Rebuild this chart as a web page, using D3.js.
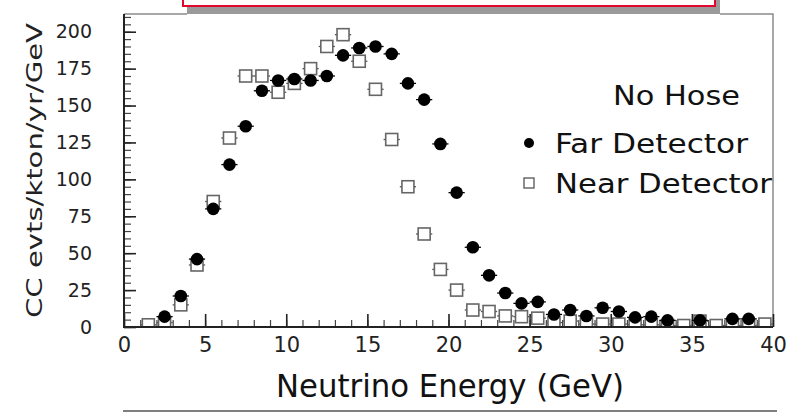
<!DOCTYPE html>
<html>
<head>
<meta charset="utf-8">
<script src="https://cdn.jsdelivr.net/npm/d3@7"></script>
<style>
  html, body { margin: 0; padding: 0; background: #fff; }
  svg { display: block; font-family: "DejaVu Sans", sans-serif; }
</style>
</head>
<body>
<svg id="chart" width="798" height="416"></svg>
<script>
// Far detector spectrum: bin centres (GeV) and CC events / kton / yr / GeV
const farEnergy = [2.5, 3.5, 4.5, 5.5, 6.5, 7.5, 8.5, 9.5, 10.5, 11.5, 12.5, 13.5, 14.5, 15.5, 16.5,
  17.5, 18.5, 19.5, 20.5, 21.5, 22.5, 23.5, 24.5, 25.5, 26.5, 27.5, 28.5, 29.5, 30.5, 31.5, 32.5,
  33.5, 35.5, 37.5, 38.5];
const farCounts = [7, 21, 46, 80, 110, 136, 160, 167, 168, 167, 170, 184, 189, 190, 185,
  165, 154, 124, 91, 54, 35, 23, 16, 17, 8.5, 11.5, 7.5, 13, 10.5, 6.5, 7,
  4.5, 4.5, 5.5, 5.5];

// Near detector spectrum
const nearEnergy = [1.5, 2.5, 3.5, 4.5, 5.5, 6.5, 7.5, 8.5, 9.5, 10.5, 11.5, 12.5, 13.5, 14.5, 15.5,
  16.5, 17.5, 18.5, 19.5, 20.5, 21.5, 22.5, 23.5, 24.5, 25.5, 26.5, 27.5, 28.5, 29.5, 30.5, 31.5,
  32.5, 33.5, 34.5, 35.5, 36.5, 37.5, 38.5, 39.5];
const nearCounts = [1.5, 3, 15, 42, 85, 128, 170, 170, 159, 165, 175, 190, 198, 180, 161,
  127, 95, 63, 39, 25, 11.5, 10.5, 7.5, 7, 6, 3, 4, 2, 2, 2, 1.5,
  1.5, 1, 1, 4, 1, 1, 1, 2];

const binHalfWidth = 0.5;
const xMajorTicks = [0, 5, 10, 15, 20, 25, 30, 35, 40];
const yMajorTicks = [0, 25, 50, 75, 100, 125, 150, 175, 200];

const xTitle = "Neutrino Energy (GeV)";
const yTitle = "CC evts/kton/yr/GeV";
const legendTitle = "No Hose";
const seriesNames = ["Far Detector", "Near Detector"];

const svg = d3.select("#chart");

const frame = { left: 124, right: 773, top: 14, bottom: 327 };
const x = d3.scaleLinear().domain([0, 40]).range([frame.left, frame.right]);
const y = d3.scaleLinear().domain([0, 212]).range([frame.bottom, frame.top]);

// banner box with drop shadow above the frame
svg.append("rect").attr("x", 187).attr("y", -10).attr("width", 533).attr("height", 24)
  .attr("fill", "#9a9a9a");
svg.append("rect").attr("x", 183).attr("y", -10).attr("width", 532).attr("height", 16)
  .attr("fill", "#fff").attr("stroke", "#e3062d").attr("stroke-width", 2);

// frame: grey top / right edges
svg.append("path")
  .attr("d", `M${frame.left},${frame.top}H187M720,${frame.top}H${frame.right}V${frame.bottom}`)
  .attr("fill", "none").attr("stroke", "#8a8a8a").attr("stroke-width", 1.5);

// minor ticks
svg.append("g").attr("transform", `translate(${frame.left},0)`)
  .call(d3.axisLeft(y).tickValues(d3.range(0, 211, 5)).tickSize(-7).tickFormat(""))
  .call(g => g.select(".domain").remove())
  .call(g => g.selectAll("line").attr("stroke", "#444").attr("stroke-width", 1.2));
svg.append("g").attr("transform", `translate(0,${frame.bottom})`)
  .call(d3.axisBottom(x).tickValues(d3.range(0, 41, 1)).tickSize(-7).tickFormat(""))
  .call(g => g.select(".domain").remove())
  .call(g => g.selectAll("line").attr("stroke", "#444").attr("stroke-width", 1.2));

// major ticks with labels
svg.append("g").attr("transform", `translate(${frame.left},0)`)
  .call(d3.axisLeft(y).tickValues(yMajorTicks).tickSize(-12).tickPadding(32).tickFormat(d3.format("d")))
  .call(g => g.select(".domain").remove())
  .call(g => g.selectAll("line").attr("stroke", "#222").attr("stroke-width", 1.6))
  .call(g => g.selectAll("text").attr("font-size", 19).attr("fill", "#222")
    .attr("font-family", "'DejaVu Sans', sans-serif"));
svg.append("g").attr("transform", `translate(0,${frame.bottom})`)
  .call(d3.axisBottom(x).tickValues(xMajorTicks).tickSize(-13).tickPadding(10).tickFormat(d3.format("d")))
  .call(g => g.select(".domain").remove())
  .call(g => g.selectAll("line").attr("stroke", "#222").attr("stroke-width", 1.6))
  .call(g => g.selectAll("text").attr("font-size", 21).attr("fill", "#222")
    .attr("font-family", "'DejaVu Sans', sans-serif"));

// left and bottom axis lines
svg.append("path")
  .attr("d", `M${frame.left},${frame.top}V${frame.bottom}H${frame.right}`)
  .attr("fill", "none").attr("stroke", "#222").attr("stroke-width", 2);

// data area clipped to the frame
svg.append("clipPath").attr("id", "plotClip").append("rect")
  .attr("x", frame.left).attr("y", frame.top)
  .attr("width", frame.right - frame.left).attr("height", frame.bottom - frame.top - 1);
const plot = svg.append("g").attr("clip-path", "url(#plotClip)");

const nearData = nearEnergy.map((e, i) => ({ e, v: nearCounts[i] }));
const farData = farEnergy.map((e, i) => ({ e, v: farCounts[i] }));

// near detector: open squares with bin-width bars
plot.append("g").selectAll("line").data(nearData).join("line")
  .attr("x1", d => x(d.e - binHalfWidth)).attr("x2", d => x(d.e + binHalfWidth))
  .attr("y1", d => y(d.v)).attr("y2", d => y(d.v))
  .attr("stroke", "#555").attr("stroke-width", 1.3);
plot.append("g").selectAll("rect").data(nearData).join("rect")
  .attr("x", d => x(d.e) - 6).attr("y", d => y(d.v) - 6)
  .attr("width", 12).attr("height", 12)
  .attr("fill", "#fff").attr("stroke", "#666").attr("stroke-width", 1.6);

// far detector: filled circles with bin-width bars
plot.append("g").selectAll("line").data(farData).join("line")
  .attr("x1", d => x(d.e - binHalfWidth)).attr("x2", d => x(d.e + binHalfWidth))
  .attr("y1", d => y(d.v)).attr("y2", d => y(d.v))
  .attr("stroke", "#000").attr("stroke-width", 1.3);
plot.append("g").selectAll("circle").data(farData).join("circle")
  .attr("cx", d => x(d.e)).attr("cy", d => y(d.v)).attr("r", 6.3)
  .attr("fill", "#000");

// legend
const legend = svg.append("g").attr("fill", "#111").attr("font-size", 26);
legend.append("text").attr("x", 613).attr("y", 105)
  .attr("textLength", 127).attr("lengthAdjust", "spacingAndGlyphs").text(legendTitle);
legend.append("circle").attr("cx", 529).attr("cy", 143).attr("r", 5).attr("fill", "#000");
legend.append("text").attr("x", 555).attr("y", 153)
  .attr("textLength", 193).attr("lengthAdjust", "spacingAndGlyphs").text(seriesNames[0]);
legend.append("rect").attr("x", 524).attr("y", 178).attr("width", 10).attr("height", 10)
  .attr("fill", "#fff").attr("stroke", "#555").attr("stroke-width", 1.3);
legend.append("text").attr("x", 555).attr("y", 193)
  .attr("textLength", 217).attr("lengthAdjust", "spacingAndGlyphs").text(seriesNames[1]);

// axis titles
svg.append("text")
  .attr("transform", "translate(42,170.5) rotate(-90)")
  .attr("text-anchor", "middle").attr("font-size", 22).attr("fill", "#222")
  .attr("textLength", 295).attr("lengthAdjust", "spacingAndGlyphs")
  .text(yTitle);
svg.append("text")
  .attr("x", 450).attr("y", 397)
  .attr("text-anchor", "middle").attr("font-size", 32).attr("fill", "#111")
  .attr("textLength", 348).attr("lengthAdjust", "spacingAndGlyphs")
  .text(xTitle);
svg.append("line").attr("x1", 123).attr("x2", 777).attr("y1", 411).attr("y2", 411)
  .attr("stroke", "#555").attr("stroke-width", 1.5);
</script>
</body>
</html>
